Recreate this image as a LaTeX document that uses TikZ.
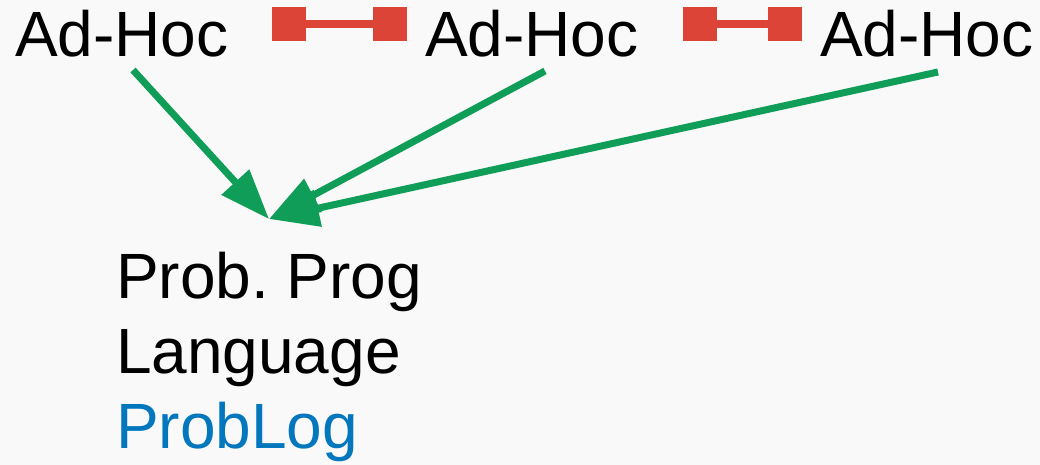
\documentclass[tikz,border=0pt]{standalone}
\usepackage{fontspec}
\setmainfont{Liberation Sans}
\usetikzlibrary{arrows.meta}
\definecolor{bgc}{HTML}{F9F9F9}
\definecolor{linkred}{HTML}{DB4437}
\definecolor{flowgreen}{HTML}{0F9D58}
\definecolor{langblue}{HTML}{0277BD}
\frenchspacing
\begin{document}
\begin{tikzpicture}[x=1pt,y=-1pt,
  label/.style={inner sep=0pt, outer sep=0pt, anchor=base west,
    font=\fontsize{64}{75}\selectfont},
  endsq/.style={fill=linkred, draw=none, minimum size=34pt, inner sep=0pt, outer sep=0pt},
  link/.style={draw=linkred, line width=8pt},
  flow/.style={draw=flowgreen, line width=7pt,
    -{Triangle[length=50pt,width=36pt]}}]
  % canvas
  \fill[bgc] (0,0) rectangle (1040,465);
  \useasboundingbox (0,0) rectangle (1040,465);

  % top row of labels
  \node[label] (a1) at (15,57) {Ad-Hoc};
  \node[label] (a2) at (425,57) {Ad-Hoc};
  \node[label] (a3) at (820,57) {Ad-Hoc};

  % red links between the labels
  \node[endsq] (s1) at (289,24) {};
  \node[endsq] (s2) at (390,24) {};
  \node[endsq] (s3) at (700,24) {};
  \node[endsq] (s4) at (784.5,24) {};
  \draw[link] (s1.east) -- (s2.west);
  \draw[link] (s3.east) -- (s4.west);

  % language block
  \node[label, align=left, anchor=north west] (lang) at (116,252)
    {Prob. Prog\\Language\\\textcolor{langblue}{ProbLog}};

  % arrow end points
  \coordinate (f1) at (133,70);
  \coordinate (f2) at (545,71);
  \coordinate (f3) at (938,72);
  \coordinate (tgt) at (269,219);

  \draw[flow] (f1) -- (tgt);
  \draw[flow] (f2) -- (tgt);
  \draw[flow] (f3) -- (tgt);
\end{tikzpicture}
\end{document}
